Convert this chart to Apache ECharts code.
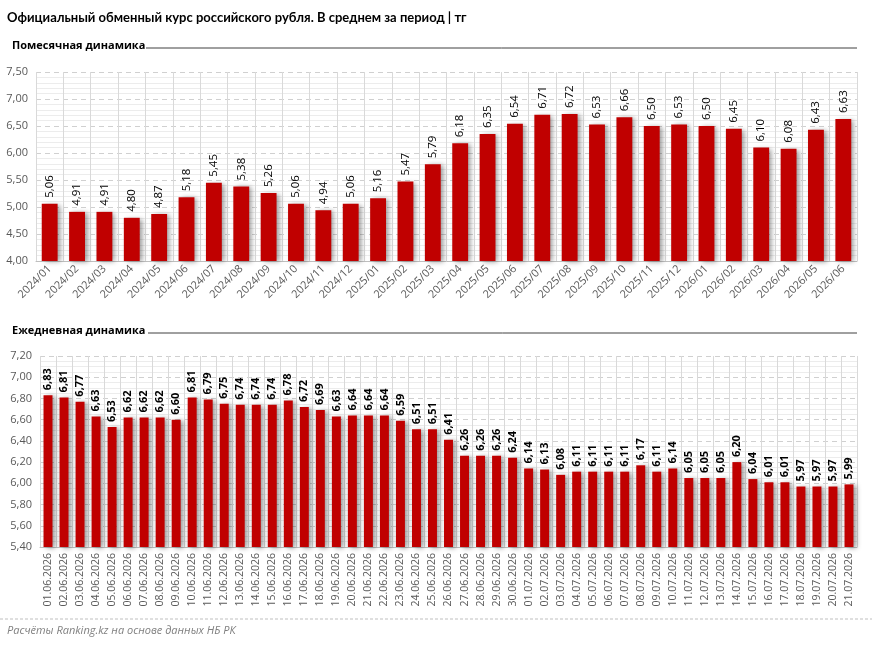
<!DOCTYPE html>
<html>
<head>
<meta charset="utf-8">
<script src="https://cdn.jsdelivr.net/npm/echarts@6/dist/echarts.min.js"></script>
<style>
html,body{margin:0;padding:0;background:#fff;}
#chart{width:872px;height:648px;}
</style>
</head>
<body>
<div id="chart"></div>
<script>
const monthCategories = ['2024/01','2024/02','2024/03','2024/04','2024/05','2024/06','2024/07','2024/08','2024/09','2024/10','2024/11','2024/12',
  '2025/01','2025/02','2025/03','2025/04','2025/05','2025/06','2025/07','2025/08','2025/09','2025/10','2025/11','2025/12',
  '2026/01','2026/02','2026/03','2026/04','2026/05','2026/06'];
const monthValues = [5.06,4.91,4.91,4.80,4.87,5.18,5.45,5.38,5.26,5.06,4.94,5.06,
  5.16,5.47,5.79,6.18,6.35,6.54,6.71,6.72,6.53,6.66,6.50,6.53,
  6.50,6.45,6.10,6.08,6.43,6.63];
const dayCategories = ['01.06.2026','02.06.2026','03.06.2026','04.06.2026','05.06.2026','06.06.2026','07.06.2026','08.06.2026','09.06.2026','10.06.2026',
  '11.06.2026','12.06.2026','13.06.2026','14.06.2026','15.06.2026','16.06.2026','17.06.2026','18.06.2026','19.06.2026','20.06.2026',
  '21.06.2026','22.06.2026','23.06.2026','24.06.2026','25.06.2026','26.06.2026','27.06.2026','28.06.2026','29.06.2026','30.06.2026',
  '01.07.2026','02.07.2026','03.07.2026','04.07.2026','05.07.2026','06.07.2026','07.07.2026','08.07.2026','09.07.2026','10.07.2026',
  '11.07.2026','12.07.2026','13.07.2026','14.07.2026','15.07.2026','16.07.2026','17.07.2026','18.07.2026','19.07.2026','20.07.2026','21.07.2026'];
const dayValues = [6.83,6.81,6.77,6.63,6.53,6.62,6.62,6.62,6.60,6.81,
  6.79,6.75,6.74,6.74,6.74,6.78,6.72,6.69,6.63,6.64,
  6.64,6.64,6.59,6.51,6.51,6.41,6.26,6.26,6.26,6.24,
  6.14,6.13,6.08,6.11,6.11,6.11,6.11,6.17,6.11,6.14,
  6.05,6.05,6.05,6.20,6.04,6.01,6.01,5.97,5.97,5.97,5.99];
const monthAxis = {min:4.0, max:7.5, interval:0.5};
const dayAxis = {min:5.4, max:7.2, interval:0.2};

const FONT = '"Open Sans", "Noto Sans", sans-serif';
const TFONT = 'Lato, "Open Sans", sans-serif';
const fmt = v => Number(v).toFixed(2).replace('.', ',');
const chart = echarts.init(document.getElementById('chart'), null, {renderer:'canvas'});

function yAx(idx, cfg, minorN){
  return {
    type:'value', gridIndex:idx, min:cfg.min, max:cfg.max, interval:cfg.interval,
    axisLine:{show:false}, axisTick:{show:false},
    axisLabel:{formatter:v=>fmt(v), color:'#595959', fontSize:11, fontFamily:FONT, margin:8},
    splitLine:{show:true, lineStyle:{color:'#d0d0d0', type:[5,4], width:1}},
    minorTick:{show:false, splitNumber:minorN},
    minorSplitLine:{show:true, lineStyle:{color:'#ececec', width:1}}
  };
}
function xAx(idx, cats, rotate, fs){
  return {
    type:'category', gridIndex:idx, data:cats, boundaryGap:true,
    axisLine:{show:true, lineStyle:{color:'#bfbfbf'}},
    axisTick:{show:false},
    axisLabel:{interval:0, rotate:rotate, color:'#595959', fontSize:fs, fontFamily:FONT, margin:6},
    splitLine:{show:true, interval:0, lineStyle:{color:'#d9d9d9', width:1}}
  };
}
const barStyle = {color:'#C00000', shadowColor:'rgba(0,0,0,0.38)', shadowBlur:5, shadowOffsetX:3, shadowOffsetY:1};

chart.setOption({
  backgroundColor:'#fff',
  animation:false,
  grid:[
    {left:36, right:15, top:72, height:189},
    {left:40, right:15, top:356, height:191}
  ],
  xAxis:[ xAx(0, monthCategories, 45, 11), xAx(1, dayCategories, 90, 10.5) ],
  yAxis:[ yAx(0, monthAxis, 5), yAx(1, dayAxis, 4) ],
  series:[
    {type:'bar', xAxisIndex:0, yAxisIndex:0, data:monthValues, barWidth:'58%', itemStyle:barStyle,
     label:{show:true, position:'top', rotate:90, align:'left', verticalAlign:'middle', distance:6,
            formatter:p=>fmt(p.value), color:'#000', fontSize:11.5, fontFamily:FONT}},
    {type:'bar', xAxisIndex:1, yAxisIndex:1, data:dayValues, barWidth:'56%', itemStyle:barStyle,
     label:{show:true, position:'top', rotate:90, align:'left', verticalAlign:'middle', distance:5,
            formatter:p=>fmt(p.value), color:'#000', fontSize:11, fontWeight:'bold', fontFamily:FONT}}
  ],
  graphic:[
    {type:'text', left:7, top:11, style:{text:'Официальный обменный курс российского рубля. В среднем за период | тг', font:'bold 13px '+TFONT, fill:'#000'}},
    {type:'text', left:12, top:40, style:{text:'Помесячная динамика', font:'bold 11px '+FONT, fill:'#000'}},
    {type:'line', shape:{x1:146, y1:48, x2:857, y2:48}, style:{stroke:'#404040', lineWidth:1}},
    {type:'text', left:12, top:325, style:{text:'Ежедневная динамика', font:'bold 11px '+FONT, fill:'#000'}},
    {type:'line', shape:{x1:148, y1:333, x2:857, y2:333}, style:{stroke:'#404040', lineWidth:1}},
    {type:'line', shape:{x1:0, y1:619, x2:872, y2:619}, style:{stroke:'#bfbfbf', lineWidth:1, lineDash:[3,2]}},
    {type:'text', left:7, top:625, style:{text:'Расчёты Ranking.kz на основе данных НБ РК', font:'italic 11px '+FONT, fill:'#7f7f7f'}}
  ]
});
</script>
</body>
</html>
